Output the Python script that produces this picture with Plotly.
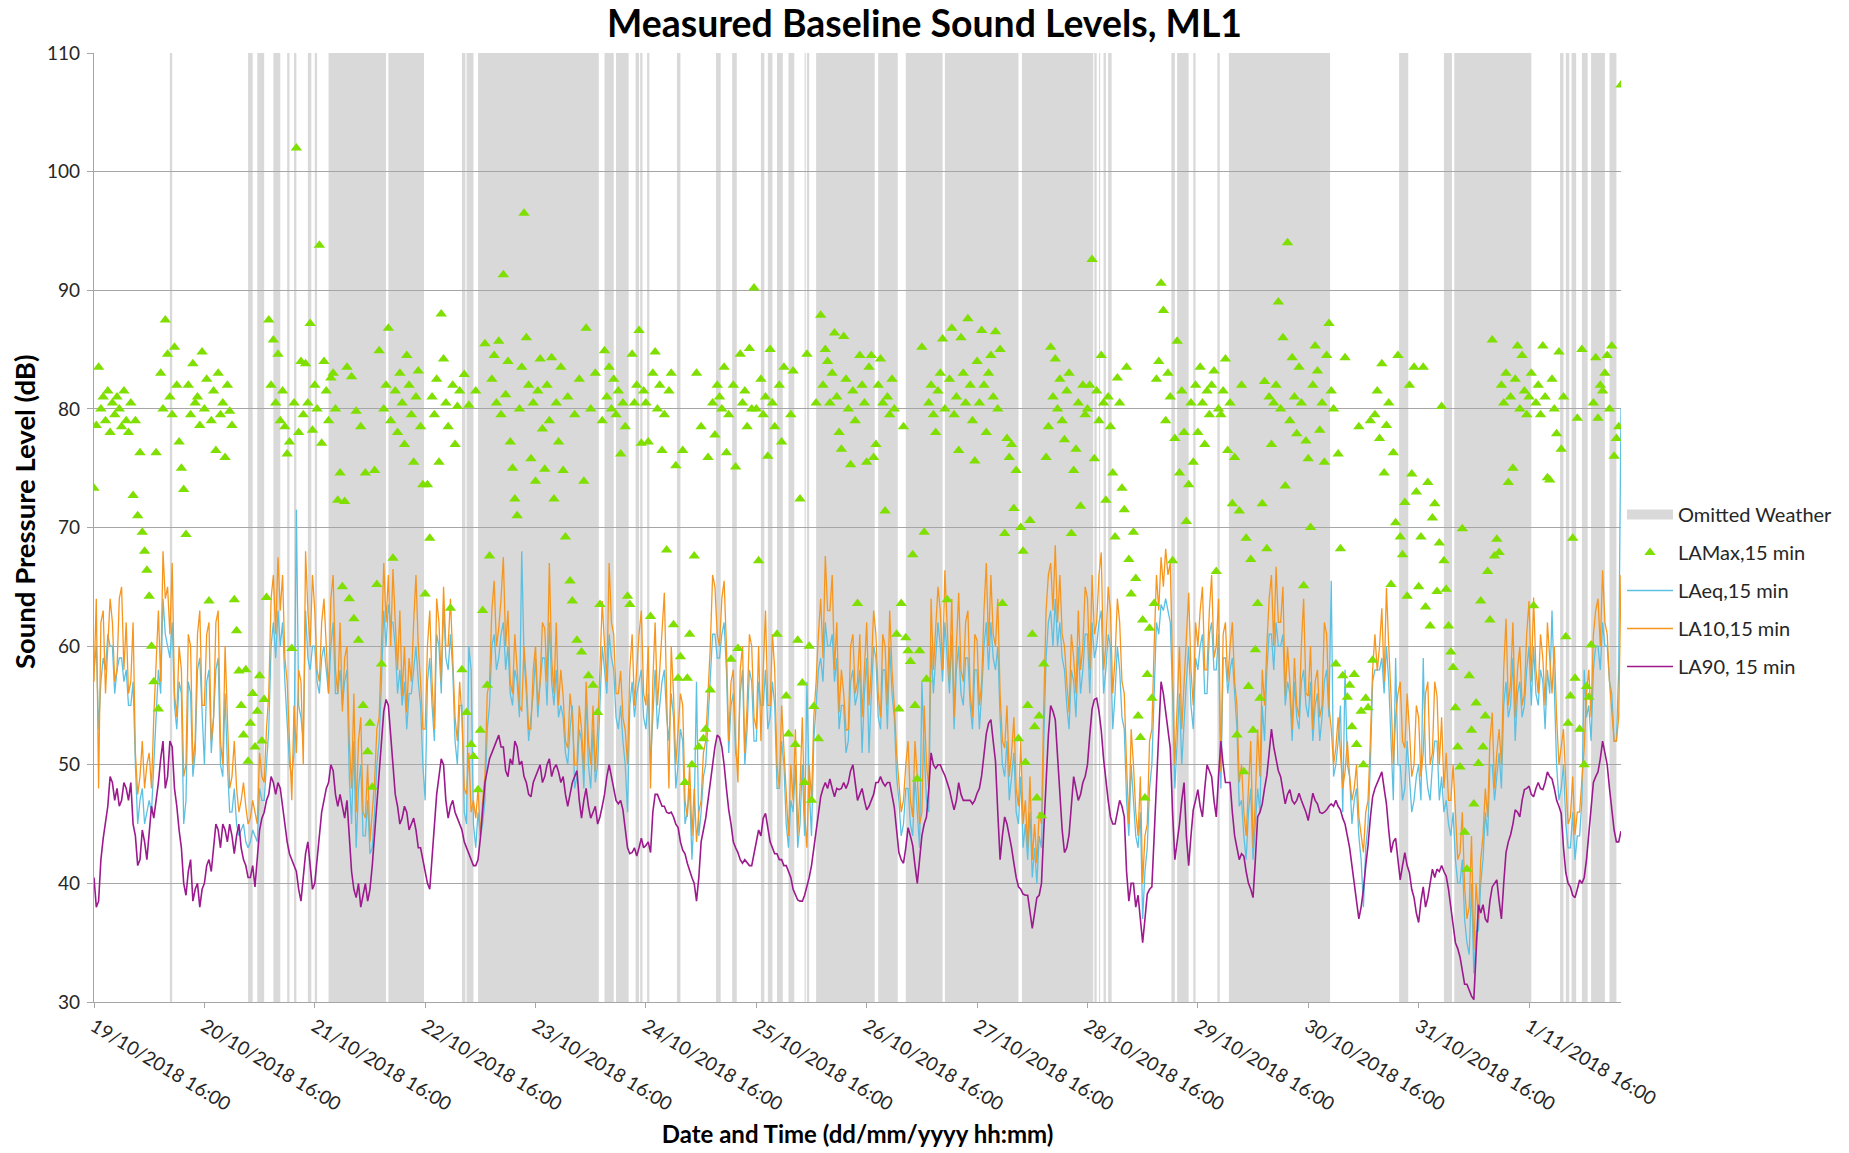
import pandas as pd
import plotly.graph_objects as go

START = "2018-10-19 16:00"

# LA90, 15 min (read at half-hour steps), starting 19/10/2018 16:00
la90 = [
    40.5, 38, 38.5, 42, 43.8, 45, 46.5, 49, 48.5, 47, 48, 46.5, 47, 48.5, 48, 47, 48.5, 45, 44, 41.5, 42, 44.5, 43.5, 42,
    44, 46.5, 45.5, 47, 48.5, 50.5, 52, 48, 49, 52, 51.5, 48, 46.5, 44.5, 43, 40, 39, 41, 42, 38.5, 39.5, 40, 38, 39.5,
    40, 41.5, 42, 41, 43, 45, 44.5, 43, 45, 44.5, 43.5, 45, 44, 42.5, 44, 45, 43, 42, 41.5, 40.5, 40.5, 41.5, 39.7, 42,
    44.5, 45.5, 46, 47, 47.5, 49, 48.5, 47.5, 48.5, 48, 46.5, 45, 43.5, 42.5, 42, 41.5, 41, 39.5, 38.5, 40.5, 42.5, 43.5, 41.5, 39.5,
    40, 42, 44.5, 46, 47, 48, 48.5, 50, 49.5, 47.5, 46.5, 47.5, 46.5, 45.5, 47, 44, 41, 39.5, 38.8, 40, 38, 39, 40, 38.5,
    39.5, 41.5, 44, 47, 49.5, 52, 54.5, 55.5, 55, 52.5, 50, 47.5, 46.5, 45, 45.5, 46.5, 46, 44.5, 45, 45.5, 44.5, 43, 43, 42,
    41, 40, 39.5, 42, 45, 47.5, 49, 50.5, 50, 47, 45.5, 46.5, 47, 46, 45.5, 45, 44.5, 43.5, 43, 42.5, 42, 41.5, 41.5, 42,
    43.8, 46, 48.5, 49.5, 50.5, 51, 51.5, 52, 52.5, 51.5, 51.5, 49.5, 49, 50.5, 50, 52, 51.5, 50, 50.3, 49, 48.5, 47.5, 47.3, 48.5,
    49, 49.5, 50, 48.5, 49, 50, 50.5, 49, 49.7, 50, 49.4, 48.5, 49, 47.5, 46.5, 47.5, 48.5, 49, 49.5, 47, 45.5, 47, 48, 46.5,
    45.5, 46, 46.5, 45, 45.6, 46.5, 47.5, 49, 50, 49, 48, 47, 46.7, 47, 46.2, 44.5, 43, 42.5, 42.6, 43, 42.3, 43, 43.8, 43,
    43.2, 43.5, 42.6, 46, 47.5, 47.5, 47, 46.5, 46.5, 46, 45.9, 46, 45.6, 45, 44.7, 43.5, 42.8, 42.5, 41.7, 41, 40.5, 40, 38.5, 40.5,
    43.5, 44.5, 45.5, 47, 48.5, 50, 51.5, 52.5, 52.3, 51.5, 50, 48, 46.2, 45, 43.5, 43, 42.6, 42, 41.7, 42, 41.7, 41.5, 41.5, 42.5,
    43.5, 44.5, 44, 45.5, 45.9, 44.5, 43.5, 43, 42.5, 42.5, 42, 42, 41.5, 41.5, 41, 40.5, 39.5, 39, 38.6, 38.5, 38.5, 39, 39.7, 40.5,
    41.5, 43, 44.5, 46, 47.3, 48, 48.5, 48, 48.8, 48, 47.3, 48, 47.9, 48, 48.5, 48, 48.5, 49.5, 50, 48.5, 47, 47.5, 48, 47,
    46.2, 46.5, 47, 47.5, 48.5, 48.5, 49, 48.5, 48.2, 48.5, 48.5, 47.5, 46.4, 44.5, 42.6, 42, 41.7, 43, 44.7, 44, 43.2, 41.5, 40, 42,
    44, 45, 45.6, 48, 51, 50, 49.7, 50, 50, 49.5, 49.1, 48.5, 47.9, 47, 46.2, 47, 48.5, 47.5, 47, 47, 47, 47, 46.7, 47,
    47.6, 48, 49.1, 51, 52.6, 53.5, 53.8, 52, 50.3, 46, 42, 44, 45.6, 45, 44.1, 43, 41.7, 40.5, 39.7, 39.5, 39.1, 39, 39, 37.5,
    36.2, 37.5, 38.8, 39, 40, 44.5, 49, 52.5, 55, 54.5, 53.8, 50.5, 47, 44.5, 42.6, 43, 44.1, 46.5, 49, 48, 47, 47.5, 48.5, 49,
    50, 52.5, 54.7, 55.5, 55.6, 54.5, 52.9, 50.5, 48.5, 47, 45.6, 45, 45, 46, 47, 46.5, 45.6, 41, 38.5, 40, 40, 38, 39, 37,
    35, 37, 39.1, 39.5, 39.7, 44, 48, 53, 57, 56, 54.4, 53, 51.4, 46, 42, 43.5, 45, 47, 48.5, 44, 41.5, 44, 46.2, 47,
    47.9, 46.5, 45.6, 48, 50, 49.5, 49, 47, 45.6, 49, 52, 50, 48.5, 48.5, 48.5, 46, 44, 43, 42, 42.5, 42.3, 41, 40, 39.5,
    38.8, 42, 45.6, 46, 46.7, 48, 49.1, 51, 53, 51.5, 50.3, 49.5, 49, 48, 46.7, 47.5, 47.9, 47, 46.7, 47, 47.6, 47, 46.5, 46,
    45.3, 46.5, 47.6, 47, 46.7, 46, 45.9, 46, 46.2, 46.5, 46.7, 46.5, 47, 46.5, 46.2, 45.5, 45, 44, 43, 41.5, 40, 38.5, 37, 38,
    39.5, 41.5, 43.2, 45.5, 47.3, 48, 48.5, 49, 49.4, 48, 46.7, 44.5, 42.6, 43.5, 43.8, 42, 40.3, 41.5, 42.6, 41.5, 40.9, 39.5, 38.8, 37.5,
    36.7, 38.5, 39.7, 38, 38.8, 40, 41.2, 40.5, 41.2, 41, 41.5, 41, 40.6, 39.5, 38.2, 36.5, 35, 34.5, 33.8, 32.5, 31.5, 31.5, 31, 30.5,
    30.2, 34, 38.2, 37.5, 38.2, 37, 36.7, 38.5, 39.7, 40, 40.3, 38.5, 37, 40, 42.6, 43.5, 44.1, 45, 46.2, 46, 45.6, 47, 47.9, 48,
    48.2, 47.5, 47.3, 48, 48.5, 48, 47.9, 48.5, 49.4, 49, 48.8, 48, 47, 46.5, 45.9, 43, 40.9, 40, 39.7, 39,
    38.8, 39.5, 40.3, 40, 40.5, 42, 44.1, 46.5, 48.5, 49, 49.4, 50.5, 52, 51, 50, 48, 46.2, 44.5, 43.5, 43.5, 44.4,
]

# LA10, 15 min (read at half-hour steps)
la10 = [
    57, 64, 48, 62, 63, 56, 60, 64, 62, 57, 58, 64, 65, 58, 62, 56, 57, 62, 51, 47.5, 49, 52, 48, 50,
    51, 48, 54, 58, 63, 57, 68, 64, 65, 61, 67, 56, 54, 60, 58, 49, 50, 61, 60, 50, 52, 61, 63, 55,
    55, 61, 62, 52, 54, 62, 63, 52, 50, 60, 54, 48, 49, 52, 48, 46, 47, 48.5, 46.5, 45, 45.5, 47, 46, 45,
    51, 49, 48.5, 53, 56, 64, 66, 61, 67.5, 63, 66, 59, 57, 52, 47, 55, 51, 58, 57, 50, 68, 63, 60, 66,
    63, 58, 57, 62, 64, 60, 56, 64, 66, 58, 56, 62, 54.5, 59, 60, 52, 48, 56, 46, 52, 54, 46, 45.5, 50,
    43.5, 46, 48.5, 53, 54, 60, 67, 62, 66, 60, 66.5, 62, 58, 63, 55.8, 60, 54.4, 59, 57, 62, 66, 60, 57, 53,
    53, 60, 63, 57, 53, 64, 62, 57, 65, 60, 60, 64, 59.5, 54, 52, 57, 54, 48, 47.5, 51, 46, 47, 45.5, 48,
    44, 47, 49, 56, 57, 63, 65.5, 60, 61.5, 64, 67.5, 60, 63, 57, 56, 61, 58, 55, 54.5, 60, 57, 53, 53, 58,
    60, 55, 57, 62, 61.5, 57, 67, 59, 56, 62, 55, 58, 55.8, 52, 51.4, 56, 54, 50, 50, 55, 53, 49.5, 57, 52,
    50, 55, 49.4, 53, 58, 63.8, 60, 57, 67, 62, 61, 56, 56, 57.9, 54, 52.9, 50, 58, 61, 55, 58, 61, 63, 56,
    55, 60, 48, 57, 62, 55, 58, 61, 64.5, 56, 48, 60, 56, 50, 53, 56, 55, 47, 45.6, 50, 44, 48, 43.5, 46,
    47, 51, 52, 56, 60, 66, 65, 61, 60, 64, 65.5, 60, 52, 57, 58, 52, 48.5, 58, 60, 51, 55, 61, 60, 54,
    53, 60, 52, 58, 63, 55, 55, 61, 58, 50, 48, 55, 51.4, 47, 44, 50, 47, 53, 44, 48, 54, 46, 43, 50,
    47, 54, 57, 61, 64, 59, 67.6, 63, 63, 66, 58, 62, 54.4, 58, 56, 52.9, 53, 60, 61, 56, 57, 61, 54, 58,
    62, 55, 58, 63, 61, 56, 54, 61, 60, 55, 63, 58, 55, 51, 48.5, 46, 47, 50, 52, 47, 45.6, 52, 49, 45,
    46, 55, 50, 48, 64, 58, 61.5, 65, 63, 58, 66.4, 61, 57, 64, 54, 60, 64.5, 58, 57, 62, 63, 56, 54, 61,
    60.5, 55, 57, 63, 67, 60, 66, 61, 60, 64, 56, 52, 51.4, 55, 49, 51, 54, 48, 46.5, 52, 45, 47, 43, 49,
    42, 45, 41.7, 46, 45, 55, 63, 66, 67, 63, 68.5, 62, 66, 61, 60, 57, 54.4, 61, 59, 56, 63, 58, 60, 65,
    64, 58, 66, 61, 62, 66, 67.9, 58, 60, 65, 63, 56, 59, 64, 62, 57, 56, 50, 45, 53, 50, 46, 44, 49,
    40, 44, 45, 52, 53, 60, 66, 63, 67.5, 65, 68.2, 66, 67, 58, 50, 55, 60, 53, 57, 61, 64.5, 58, 55, 62,
    60, 63, 65, 58, 58, 63, 66, 59, 60, 64, 49.4, 61, 62, 57, 60, 62, 57, 55, 48.5, 50, 46, 44, 48, 52,
    43, 47, 53, 49, 58, 55, 60, 64, 66, 60, 66.7, 62, 62, 65, 55.8, 60, 57, 53, 59, 55, 54, 60, 64, 56,
    55.8, 60, 53, 57, 58, 54, 55, 62, 61, 55, 53, 50, 51.4, 54, 51, 48, 49.4, 52, 49, 47, 48, 50, 45.6, 44,
    42.6, 46, 47, 52, 58, 61, 57.9, 60, 63.2, 57, 64.9, 60, 55.8, 50, 54, 56, 57, 52, 51.4, 56, 53, 49, 50, 55,
    54, 49, 51, 56, 57, 50, 51, 57, 55.8, 50, 54, 48, 51, 47, 47, 50, 45.6, 42, 42.6, 46, 39.7, 37, 38, 44,
    34.4, 40, 37, 42, 44, 48, 45.6, 52, 54.4, 48, 51, 53, 50, 58, 62.3, 55, 57, 62, 54, 58, 60, 55, 56, 61,
    63.8, 57, 64.1, 58, 56, 61, 59, 55, 62, 59, 56, 60, 54, 50, 51.4, 53, 48.5, 45, 45.6, 49,
    44.1, 46, 46, 49, 51.4, 56, 58, 54, 61, 63, 64, 60, 66.4, 62, 61, 57, 54.4, 52, 52, 54, 66,
]

# LAeq, 15 min (read at half-hour steps)
laeq = [
    58, 60, 53, 57, 59, 58, 61, 60, 60, 56, 58, 59, 59, 57, 58, 55, 55, 57, 50, 45, 47, 48, 45, 46,
    47, 46, 50, 54, 58, 56, 64, 61, 60, 59, 62, 55, 53, 57, 56, 45, 47, 57, 56, 49, 51, 58, 59, 54,
    50, 57, 58, 51, 54, 58, 59, 50, 49, 56, 50, 46, 46, 48, 45, 44, 44.5, 45, 43.5, 43, 43.5, 44.5, 44, 43.5,
    48, 47, 47, 50, 53, 60, 62, 59, 63, 60, 62, 57, 53, 50, 49, 51, 71.5, 55, 54, 52, 63, 59, 58, 60,
    60, 57, 56, 59, 60, 58, 56, 60, 62, 56, 56, 58, 55, 57, 58, 49, 45, 52, 43, 48, 50, 44, 44, 47,
    42.5, 43, 46, 50, 52, 57, 63, 60, 63.5, 62, 62, 60, 56, 58, 55, 57, 53, 56, 56, 58, 60, 57, 55, 50,
    47, 57, 59, 55, 52, 61, 60, 56, 63.5, 59, 58, 61, 58, 52, 50, 55, 55, 46, 45, 60, 58, 45, 43, 46,
    44, 45, 47, 53, 55, 60, 61, 58, 59, 61, 62, 58, 60, 56, 55, 58, 57, 54, 68, 59, 56, 52, 54, 56,
    59, 54, 57, 59, 59, 55, 62, 57, 55, 58, 54, 55, 54, 51, 50, 53, 55, 48, 49, 53, 52, 48, 56, 50,
    48, 53, 48.5, 50, 55, 60, 58, 56, 61, 59, 58, 54, 53, 55, 52, 50, 46, 55, 57, 54, 56, 57, 58, 54,
    53, 56, 50, 54, 58, 53, 55, 57, 58, 54, 52, 56, 54, 48, 50, 53, 52, 45, 46, 48, 42, 46, 57, 44,
    46, 49, 50, 54, 57, 61, 61, 59, 59, 61, 62, 58, 51, 55, 56, 51, 50, 56, 58, 50, 53, 58, 57, 52,
    52, 57, 55, 55, 58, 53, 54, 57, 55, 48, 48, 52, 50, 45, 43, 47, 46, 50, 43, 45, 50, 44, 57, 48,
    44, 52, 55, 58, 59, 57, 62, 60, 60, 61, 57, 59, 53, 55, 55, 51, 52, 57, 58, 55, 56, 58, 51, 56,
    59, 51, 56, 60, 59, 54, 53, 58, 58, 53, 60, 56, 54, 49, 47, 44, 45, 48, 48, 45, 44, 49, 46, 43,
    57, 51, 47, 46, 60, 56, 59, 62, 60, 57, 62, 59, 56, 61, 53, 58, 60, 56, 55, 59, 59, 55, 53, 58,
    58, 53, 56, 60, 62, 58, 62, 59, 58, 60, 54, 50, 49, 52, 47, 49, 51, 46, 45, 49, 43, 45, 42, 46,
    40.5, 43, 40, 44, 43, 52, 59, 62, 63, 60, 64, 60, 62, 59, 58, 55, 53, 58, 57, 54, 60, 56, 58, 61,
    61, 56, 62, 59, 60, 62, 63, 56, 58, 61, 60, 53, 56, 60, 58, 54, 53, 47, 44, 50, 47, 44, 43, 46,
    37, 41, 43, 48, 50, 57, 62, 61, 63.5, 63, 64, 63, 62, 56, 48, 52, 56, 50, 54, 57, 60, 55, 53, 59,
    58, 60, 61, 56, 56, 61, 62, 58, 58, 61, 48, 59, 59, 56, 58, 59, 56, 53, 46.5, 47, 44, 42, 46, 48,
    42, 45, 48, 46, 55, 52, 58, 61, 61, 58, 62, 60, 60, 61, 55, 57, 56, 52, 57, 54, 53, 57, 58, 55,
    54, 57, 52, 55, 56, 52, 54, 57, 58, 54, 65.5, 49, 50, 52, 55, 46, 58, 50, 49, 45, 47, 48, 44, 42,
    38, 43, 45, 50, 57, 58, 58, 58, 59, 56, 60, 57, 52, 47, 59, 50, 50, 47, 48, 52, 49, 46, 47, 49,
    50, 47, 59, 50, 48, 47, 50, 52, 52, 47, 49, 46, 47, 45, 44, 46, 42, 40, 40, 42, 37, 35, 34, 40,
    32.4, 36, 36, 40, 42, 46, 44, 50, 50, 47, 49, 51, 48, 55, 57, 54, 55, 59, 52, 56, 57, 54, 55, 58,
    60, 55, 60, 56, 55, 58, 57, 53, 58, 56, 63, 57, 50, 47, 48, 50, 45, 43, 43, 46,
    42, 44, 44, 47, 58, 54, 55, 52, 58, 60, 60, 58, 62, 60, 60, 57, 56, 52, 52, 58, 80,
]

# LAMax, 15 min (read at half-hour steps)
lamax = [
    73.3, 78.6, 83.5, 80, 81, 79, 81.5, 78, 80.5, 79.5, 81, 80, 78.5, 81.5, 79, 78, 80.5, 72.7, 79, 71, 76.3, 69.6, 68, 66.4,
    64.2, 60, 57, 76.3, 54.7, 83, 80, 87.5, 84.6, 81, 79.5, 85.2, 82, 77.2, 75, 73.2, 69.4, 82, 79.5, 83.8, 80.5, 81, 78.6, 84.8,
    80, 82.5, 63.8, 79, 81.5, 76.5, 83, 79.5, 80.5, 75.9, 82, 79.8, 78.6, 63.9, 61.3, 57.9, 55, 52.5, 58, 50.3, 53.5, 56, 51.5, 54.5,
    57.5, 52, 55.5, 64.1, 87.5, 82, 85.8, 80.5, 84.6, 79, 81.5, 78.5, 76.2, 77.2, 59.8, 80.5, 102, 78, 84, 79.5, 83.8, 80.5, 87.2, 78.2,
    82, 80, 93.8, 77.1, 84, 81.5, 79, 82.6, 83, 80, 72.3, 74.6, 65, 72.2, 83.5, 64, 82.7, 62.3, 79.8, 60.5, 78.5, 55, 74.6, 51.1,
    53.5, 48.1, 74.8, 65.2, 84.9, 58.5, 80, 82, 86.8, 79, 67.4, 81.5, 78, 83, 80.5, 77, 84.5, 82, 79.5, 75.5, 81, 83.2, 78.5, 73.6,
    64.4, 73.6, 69.1, 81, 79.5, 82.5, 75.5, 88, 84.2, 80.5, 78.5, 63.2, 82, 77, 80.2, 81.5, 58, 82.9, 54.4, 80.3, 51.7, 50.7, 81.5, 47.9,
    52.9, 63, 85.5, 56.7, 67.6, 82.5, 84.5, 80.5, 85.7, 79.5, 91.3, 81.2, 84, 77.2, 75, 72.4, 71, 80, 83.5, 96.5, 86, 82, 75.8, 80.5,
    73.9, 81.5, 84.2, 78.3, 74.9, 82, 79, 84.3, 72.4, 80.5, 77.2, 83.5, 74.8, 69.2, 81, 65.5, 63.8, 79.5, 60.5, 82.5, 59.5, 73.9, 86.8, 57.5,
    80, 56.7, 83, 54.4, 63.5, 79, 84.9, 81, 83.5, 80, 82.5, 79.5, 81.5, 76.2, 80.5, 78.5, 64.2, 63.5, 84.6, 80.5, 82, 86.6, 77.1, 81.5,
    80.5, 77.2, 62.5, 83, 84.8, 80, 82, 76.5, 79.5, 68.1, 81.5, 83, 61.8, 75.2, 57.3, 59.1, 76.5, 48.5, 57.3, 61, 50, 67.6, 83, 51.5,
    78.5, 52.2, 53, 75.9, 56.3, 80.5, 77.8, 82, 81, 80, 83.5, 76.3, 79.5, 58.9, 82, 75.1, 59.8, 84.6, 80.5, 81.5, 78.5, 85.1, 80, 90.2,
    80, 67.2, 82.5, 79.5, 81, 76, 85, 80.5, 78.5, 61, 82, 77.2, 83.5, 55.8, 52.6, 79.5, 83.2, 51.7, 60.5, 72.4, 56.9, 48.5, 84.6, 60,
    47, 54.9, 80.5, 52.2, 87.9, 82, 85, 84, 80.5, 83, 86.4, 81, 78, 76.6, 86.1, 82.5, 80, 75.3, 81.5, 79, 63.6, 84.5, 82, 80.5,
    75.5, 83.5, 84.5, 75.9, 77, 82, 84.2, 80.5, 71.4, 81, 79.5, 82.5, 80, 61, 54.7, 63.6, 78.5, 60.7, 59.6, 58.7, 67.7, 55, 48.8, 59.6,
    85.2, 69.6, 57.2, 80.5, 82, 79.5, 78, 81.5, 83, 85.9, 80, 63.9, 82.5, 86.8, 79.5, 81, 76.5, 86, 83, 80.5, 87.6, 82, 79, 75.6,
    84, 80.5, 86.6, 82, 78, 83, 84.5, 81, 86.5, 80, 85, 63.6, 69.5, 77.5, 75.9, 77, 71.6, 74.8, 52.2, 70, 68, 50.2, 55, 70.6,
    61, 53.2, 47.2, 54.1, 45.7, 58.5, 75.9, 78.5, 85.2, 81, 84.2, 80, 82.5, 79, 77.4, 81.5, 83, 69.5, 74.8, 76.6, 80.5, 71.8, 82, 79.5,
    80, 82, 92.6, 75.8, 81.5, 79, 84.5, 80.5, 72.3, 81, 78.5, 74.6, 69.2, 82.6, 80.5, 73.3, 71.5, 83.5, 67.3, 64.4, 69.6, 65.7, 54.1, 52.3,
    62.2, 47.2, 57.6, 61.5, 55.6, 63.6, 82.5, 84, 90.6, 88.3, 79, 83, 81, 67.2, 77.5, 85.7, 74.6, 81.5, 78, 70.5, 73.6, 80.5, 75.5, 82,
    78, 83.5, 80.5, 77, 81.5, 79.5, 82, 83.2, 66.3, 80, 79.5, 81.5, 84.2, 76.5, 80.5, 72, 75.9, 52.5, 71.4, 82, 49.4, 69.1, 56.6, 67.3,
    52.9, 59.7, 63.6, 55.6, 72, 82.3, 68.2, 81, 77, 80.5, 82, 89, 80, 86, 73.5, 94, 79, 84.3, 81, 77.9, 83.5, 80.5, 65.1, 77.3,
    75.8, 70, 82, 85.3, 83.2, 78.2, 80.5, 75.5, 84.5, 87.2, 81.5, 80, 58.5, 76.2, 68.2, 57.5, 84.3, 55.7, 56.7, 53.2, 57.6, 51.7, 78.5, 54.5,
    50, 55.6, 54.8, 79, 58.8, 79.5, 81.5, 77.5, 83.8, 74.6, 78.6, 80.5, 65.2, 76.3, 70.4, 84.5, 69.2, 67.7, 72.1, 64.2, 82, 74.5, 83.5, 73,
    65, 69.2, 83.5, 63.3, 73.8, 61.7, 70.8, 72, 64.6, 68.7, 80.2, 67.2, 64.8, 61.7, 59.5, 58.2, 54.8, 51.5, 49.8, 69.9, 44.3, 41.2, 57.5, 52.9,
    46.7, 55.2, 50.1, 63.8, 51.5, 54.1, 66.3, 62.2, 85.8, 67.6, 69, 67.9, 82, 80.5, 83, 73.8, 81, 75, 82.5, 85.3, 80, 84.5, 81.5, 79.5,
    81, 83, 63.4, 80.5, 82, 79.5, 85.3, 81, 74.2, 74, 82.5, 80, 77.9, 84.8, 76.6, 81, 60.8, 53.5, 55.8, 69.1, 57.3, 79.2, 53, 85,
    50, 56.6, 55.7, 60.1, 80.5, 84.3, 79.2, 82, 81.5, 83, 84.5, 80, 85.3, 76, 77.5, 78.5, 107.3,
]

# Omitted weather periods
band_start = [
    "2018-10-20 08:30", "2018-10-21 01:30", "2018-10-21 03:30", "2018-10-21 07:00", "2018-10-21 10:00",
    "2018-10-21 11:30", "2018-10-21 14:30", "2018-10-21 16:00", "2018-10-21 19:00", "2018-10-22 08:00",
    "2018-10-23 00:00", "2018-10-23 01:00", "2018-10-23 03:30", "2018-10-24 07:00", "2018-10-24 09:30",
    "2018-10-24 13:45", "2018-10-24 14:45", "2018-10-24 16:15", "2018-10-24 22:45", "2018-10-25 07:15",
    "2018-10-25 10:45", "2018-10-25 17:00", "2018-10-25 18:30", "2018-10-25 20:30", "2018-10-25 23:00",
    "2018-10-26 02:30", "2018-10-26 03:00", "2018-10-26 05:00", "2018-10-26 18:30", "2018-10-27 00:30",
    "2018-10-27 09:00", "2018-10-28 01:45", "2018-10-28 17:30", "2018-10-28 18:30", "2018-10-28 19:30",
    "2018-10-28 20:30", "2018-10-29 10:15", "2018-10-29 11:30", "2018-10-29 15:00", "2018-10-29 20:15",
    "2018-10-29 22:45", "2018-10-31 11:45", "2018-10-31 21:30", "2018-10-31 23:45", "2018-11-01 22:45",
    "2018-11-02 00:00", "2018-11-02 01:15", "2018-11-02 03:30", "2018-11-02 05:30", "2018-11-02 09:30",
]
band_end = [
    "2018-10-20 09:00", "2018-10-21 02:30", "2018-10-21 05:00", "2018-10-21 08:30", "2018-10-21 10:30",
    "2018-10-21 12:00", "2018-10-21 15:15", "2018-10-21 16:30", "2018-10-22 07:30", "2018-10-22 15:45",
    "2018-10-23 00:45", "2018-10-23 02:30", "2018-10-24 05:45", "2018-10-24 09:00", "2018-10-24 12:15",
    "2018-10-24 14:30", "2018-10-24 15:15", "2018-10-24 16:45", "2018-10-24 23:30", "2018-10-25 08:15",
    "2018-10-25 11:45", "2018-10-25 17:45", "2018-10-25 19:30", "2018-10-25 21:45", "2018-10-26 00:15",
    "2018-10-26 02:45", "2018-10-26 03:30", "2018-10-26 17:45", "2018-10-26 22:45", "2018-10-27 08:30",
    "2018-10-28 01:00", "2018-10-28 17:15", "2018-10-28 18:00", "2018-10-28 18:45", "2018-10-28 20:00",
    "2018-10-28 21:15", "2018-10-29 11:00", "2018-10-29 14:00", "2018-10-29 15:30", "2018-10-29 20:45",
    "2018-10-30 20:45", "2018-10-31 13:45", "2018-10-31 23:15", "2018-11-01 16:30", "2018-11-01 23:30",
    "2018-11-02 00:45", "2018-11-02 02:15", "2018-11-02 04:45", "2018-11-02 08:30", "2018-11-02 11:00",
]

t_la90 = pd.date_range(START, periods=len(la90), freq="30min")
t_la10 = pd.date_range(START, periods=len(la10), freq="30min")
t_laeq = pd.date_range(START, periods=len(laeq), freq="30min")
t_lamax = pd.date_range(START, periods=len(lamax), freq="30min")
x_end = max(t_la90[-1], t_la10[-1], t_laeq[-1], t_lamax[-1])

FONT = "Lato, 'Open Sans', sans-serif"
GREY_BAND = "#d9d9d9"
GRID = "#a6a6a6"

W, H = 1849, 1153
ML, MR, MT, MB = 94, 228, 53, 151
PLOT_W = W - ML - MR
PLOT_H = H - MT - MB

fig = go.Figure()

fig.add_trace(go.Scatter(x=[None], y=[None], mode="lines", name="Omitted Weather",
                         line=dict(color=GREY_BAND, width=10), legendrank=1, legendgroup="g1"))
fig.add_trace(go.Scatter(x=t_laeq, y=laeq, mode="lines", name="LAeq,15 min",
                         line=dict(color="#5cc0e2", width=1.3), legendrank=3, legendgroup="g3"))
fig.add_trace(go.Scatter(x=t_la10, y=la10, mode="lines", name="LA10,15 min",
                         line=dict(color="#f7961e", width=1.3), legendrank=4, legendgroup="g4"))
fig.add_trace(go.Scatter(x=t_la90, y=la90, mode="lines", name="LA90, 15 min",
                         line=dict(color="#9c1a8e", width=1.6), legendrank=5, legendgroup="g5"))
fig.add_trace(go.Scatter(x=t_lamax, y=lamax, mode="markers", name="LAMax,15 min",
                         marker=dict(symbol="triangle-up", size=10, color="#7fdf00",
                                     line=dict(width=0)),
                         legendrank=2, legendgroup="g2"))

shapes = []
for s, e in zip(band_start, band_end):
    shapes.append(dict(type="rect", xref="x", yref="paper", x0=s, x1=e, y0=0, y1=1,
                       fillcolor=GREY_BAND, line=dict(width=0), layer="below"))

fig.update_layout(
    width=W, height=H,
    margin=dict(l=ML, r=MR, t=MT, b=MB, autoexpand=False),
    paper_bgcolor="white", plot_bgcolor="white",
    font=dict(family=FONT, color="#404040"),
    shapes=shapes,
    title=dict(text="<b>Measured Baseline Sound Levels, ML1</b>", x=0.5, xref="container",
               xanchor="center", y=1 - 24 / H, yref="container", yanchor="middle",
               font=dict(size=37.4, color="#000000", family=FONT)),
    annotations=[dict(
        text="<b>Sound Pressure Level (dB)</b>", textangle=-90, showarrow=False,
        xref="paper", yref="paper", x=(24 - ML) / PLOT_W, y=(H - MB - 512) / PLOT_H,
        xanchor="center", yanchor="middle",
        font=dict(size=27.5, color="#000000", family=FONT))],
    showlegend=True,
    legend=dict(xref="container", yref="container", x=(1638 - 16) / W, xanchor="left",
                y=1 - 495 / H, yanchor="top", itemwidth=46,
                font=dict(size=20, color="#262626", family=FONT),
                tracegroupgap=9, traceorder="grouped", bgcolor="rgba(0,0,0,0)"),
    xaxis=dict(
        type="date", automargin=False,
        range=[t_la90[0], x_end],
        tick0=START, dtick=86400000, tickformat="%-d/%m/%Y %H:%M",
        tickangle=31,
        ticks="outside", ticklen=5, tickcolor=GRID,
        showgrid=False, zeroline=False,
        showline=True, linecolor=GRID, linewidth=1.3,
        tickfont=dict(size=19, color="#262626", family=FONT),
        title=dict(text="<b>Date and Time (dd/mm/yyyy hh:mm)</b>",
                   font=dict(size=24, color="#000000", family=FONT), standoff=12),
    ),
    yaxis=dict(
        automargin=False,
        range=[30, 110], tick0=30, dtick=10,
        ticks="outside", ticklen=6, tickcolor=GRID,
        showgrid=True, gridcolor=GRID, gridwidth=1.3, zeroline=False,
        showline=True, linecolor=GRID, linewidth=1.3,
        tickfont=dict(size=19, color="#262626", family=FONT),
        ticklabelstandoff=3,
    ),
)

fig.write_html("out.html", config={"displayModeBar": False},
               post_script="document.body.style.margin='0px';document.body.style.overflow='hidden';")
